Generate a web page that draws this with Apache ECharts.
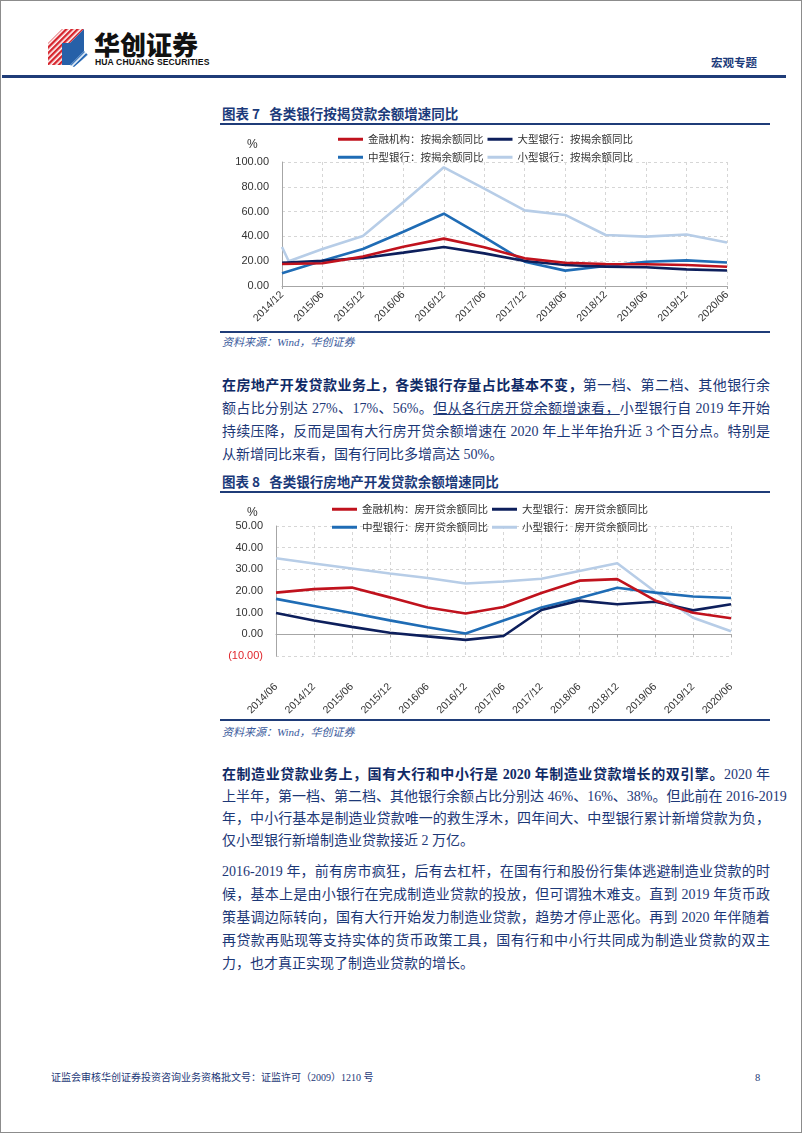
<!DOCTYPE html>
<html><head><meta charset="utf-8">
<script src="https://cdn.jsdelivr.net/npm/echarts@6/dist/echarts.min.js"></script>
<style>
html,body{margin:0;padding:0;background:#fff;}
#page{position:relative;width:802px;height:1133px;overflow:hidden;font-family:"Liberation Serif","Noto Sans CJK SC",serif;}
.frame{position:absolute;left:0;top:0;width:800px;height:1131px;border:1px solid #8c8c8c;}
.abs{position:absolute;white-space:nowrap;}
.tl{position:absolute;left:222px;width:548px;white-space:nowrap;font-size:14px;line-height:20px;height:20px;color:#1d3877;}
.j{text-align:justify;text-align-last:justify;}
.b{font-weight:bold;color:#0f2a66;}
.u{text-decoration:underline;}
.title{position:absolute;left:222px;font-family:"Noto Sans CJK SC",sans-serif;font-weight:bold;font-size:13.5px;color:#1b3a7a;line-height:18px;}
.rule{position:absolute;left:220px;width:550px;height:2px;background:#1f3c78;}
.src{position:absolute;left:222px;font-size:11px;font-style:italic;color:#3a5a9c;line-height:14px;}
.chart{position:absolute;}
</style></head>
<body><div id="page">
<div class="frame"></div>
<!-- header -->
<svg class="abs" style="left:48px;top:29px" width="42" height="38" viewBox="0 0 42 38">
  <defs>
    <pattern id="st" patternUnits="userSpaceOnUse" width="4" height="4" patternTransform="rotate(45)">
      <rect width="2.4" height="4" fill="#d7262e"/>
    </pattern>
    <pattern id="sb" patternUnits="userSpaceOnUse" width="4" height="4" patternTransform="rotate(45)">
      <rect width="2.4" height="4" fill="#2a6ab5"/>
    </pattern>
  </defs>
  <polygon points="14,0 36,0 22,14 0,14 " fill="url(#st)"/>
  <polygon points="0,14 14,14 14,36 0,36" fill="url(#st)"/>
  <polygon points="14,14 22,14 36,0 36,22 22,36 14,36" fill="#2660a8"/>
  <polygon points="22,36 36,22 40,26 26,38" fill="url(#sb)"/>
</svg>
<div class="abs" style="left:94px;top:29px;font-family:'Noto Sans CJK SC';font-weight:900;font-size:26px;line-height:30px;color:#111;letter-spacing:0px">华创证券</div>
<div class="abs" style="left:95px;top:58px;font-family:'Liberation Sans Narrow','Liberation Sans';font-weight:bold;font-size:8.6px;line-height:9px;color:#111;letter-spacing:0.1px">HUA CHUANG SECURITIES</div>
<div class="abs" style="left:711px;top:55px;font-family:'Noto Sans CJK SC';font-weight:bold;font-size:11.5px;line-height:14px;color:#1b3a7a">宏观专题</div>
<div class="abs" style="left:2px;top:75px;width:784px;height:3px;background:#1f3c78"></div>

<!-- chart 7 -->
<div class="title" style="top:104px">图表 7&nbsp;&nbsp;&nbsp;各类银行按揭贷款余额增速同比</div>
<div class="rule" style="top:123px"></div>
<div id="c1" class="chart" style="left:210px;top:128px;width:570px;height:202px"></div>
<div class="rule" style="top:331px;height:1.5px"></div>
<div class="src" style="top:335px">资料来源：Wind，华创证券</div>

<!-- paragraph 1 -->
<div class="tl j" style="top:376px"><span class="b">在房地产开发贷款业务上，各类银行存量占比基本不变，</span>第一档、第二档、其他银行余</div>
<div class="tl j" style="top:399px">额占比分别达 27%、17%、56%。<span class="u">但从各行房开贷余额增速看，</span>小型银行自 2019 年开始</div>
<div class="tl j" style="top:422px">持续压降，反而是国有大行房开贷余额增速在 2020 年上半年抬升近 3 个百分点。特别是</div>
<div class="tl" style="top:445px">从新增同比来看，国有行同比多增高达 50%。</div>

<!-- chart 8 -->
<div class="title" style="top:472px">图表 8&nbsp;&nbsp;&nbsp;各类银行房地产开发贷款余额增速同比</div>
<div class="rule" style="top:491px"></div>
<div id="c2" class="chart" style="left:210px;top:496px;width:570px;height:222px"></div>
<div class="rule" style="top:719px;height:1.5px"></div>
<div class="src" style="top:725px">资料来源：Wind，华创证券</div>

<!-- paragraph 2 -->
<div class="tl j" style="top:765px"><span class="b">在制造业贷款业务上，国有大行和中小行是 2020 年制造业贷款增长的双引擎。</span>2020 年</div>
<div class="tl j" style="top:787px">上半年，第一档、第二档、其他银行余额占比分别达 46%、16%、38%。但此前在 2016-2019</div>
<div class="tl j" style="top:809px">年，中小行基本是制造业贷款唯一的救生浮木，四年间大、中型银行累计新增贷款为负，</div>
<div class="tl" style="top:831px">仅小型银行新增制造业贷款接近 2 万亿。</div>

<!-- paragraph 3 -->
<div class="tl j" style="top:862px">2016-2019 年，前有房市疯狂，后有去杠杆，在国有行和股份行集体逃避制造业贷款的时</div>
<div class="tl j" style="top:885px">候，基本上是由小银行在完成制造业贷款的投放，但可谓独木难支。直到 2019 年货币政</div>
<div class="tl j" style="top:908px">策基调边际转向，国有大行开始发力制造业贷款，趋势才停止恶化。再到 2020 年伴随着</div>
<div class="tl j" style="top:931px">再贷款再贴现等支持实体的货币政策工具，国有行和中小行共同成为制造业贷款的双主</div>
<div class="tl" style="top:954px">力，也才真正实现了制造业贷款的增长。</div>

<!-- footer -->
<div class="abs" style="left:51px;top:1071px;font-size:10px;line-height:13px;color:#1d3877">证监会审核华创证券投资咨询业务资格批文号：证监许可（2009）1210 号</div>
<div class="abs" style="left:755px;top:1071px;font-size:10.5px;line-height:13px;color:#1d3877">8</div>
</div>

<script>
// ---------- Chart 7 data (按揭余额同比, %) ----------
const cats1 = ['2014/12','2015/06','2015/12','2016/06','2016/12','2017/06','2017/12','2018/06','2018/12','2019/06','2019/12','2020/06'];
const months1 = [0, 6, 12, 18, 24, 30, 36, 42, 48, 54, 60, 66];
const fin1   = [17.7, 18.3, 23.7, 31.7, 38.2, 31.2, 22.3, 18.8, 17.7, 17.5, 16.9, 15.5];
const large1 = [18.8, 20.4, 22.6, 26.9, 31.5, 26.3, 20.2, 16.9, 15.6, 15.1, 13.4, 12.5];
const mid1   = [10.2, 20.4, 29.8, 43.8, 58.3, 39.5, 19.6, 12.4, 16.1, 19.6, 20.7, 19.0];
const smallMonths1 = [0, 1, 6, 12, 18, 24, 30, 36, 42, 48, 54, 60, 66];
const small1 = [31.5, 20.0, 29.8, 40.3, 67.5, 95.7, 78.5, 61.0, 57.3, 41.1, 39.8, 41.5, 35.0];
const names1 = ['金融机构：按揭余额同比','大型银行：按揭余额同比','中型银行：按揭余额同比','小型银行：按揭余额同比'];

// ---------- Chart 8 data (房开贷余额同比, %) ----------
const cats2 = ['2014/06','2014/12','2015/06','2015/12','2016/06','2016/12','2017/06','2017/12','2018/06','2018/12','2019/06','2019/12','2020/06'];
const fin2   = [19.3, 20.9, 21.6, 17.1, 12.4, 9.7, 12.7, 19.1, 24.8, 25.5, 15.7, 10.0, 7.5];
const large2 = [9.9, 6.4, 3.5, 0.8, -0.9, -2.5, -0.7, 11.3, 15.6, 13.9, 15.1, 11.1, 13.9];
const mid2   = [16.4, 13.1, 9.9, 6.5, 3.3, 0.4, 6.4, 12.4, 16.8, 21.5, 19.3, 17.5, 16.8];
const small2 = [35.1, 32.7, 30.4, 28.1, 26.0, 23.5, 24.4, 25.7, 29.3, 32.8, 19.7, 7.7, 1.5];
const names2 = ['金融机构：房开贷余额同比','大型银行：房开贷余额同比','中型银行：房开贷余额同比','小型银行：房开贷余额同比'];

const colors = ['#c0121d', '#0d1f5c', '#1f6cb5', '#b7cde7'];
const axisFont = 'Liberation Sans';
const legendFont = 'Noto Sans CJK SC';

function legends(names, left, top1, top2) {
  const base = {
    left: left, icon: 'rect', itemWidth: 25, itemHeight: 3, itemGap: 4,
    textStyle: {fontFamily: legendFont, fontSize: 10.5, color: '#333'}, padding: 0
  };
  return [
    Object.assign({}, base, {top: top1, data: [names[0], names[1]]}),
    Object.assign({}, base, {top: top2, data: [names[2], names[3]]})
  ];
}
function lineSeries(name, data, color, z) {
  return {name: name, type: 'line', data: data, showSymbol: false, symbol: 'none',
    lineStyle: {width: 2.6, color: color}, itemStyle: {color: color}, z: z, silent: true};
}
const dashed = {show: true, lineStyle: {color: '#d6d6d6', type: [3, 3], width: 1}};

const c1 = echarts.init(document.getElementById('c1'), null, {renderer: 'canvas'});
c1.setOption({
  animation: false,
  legend: legends(names1, 128, 6, 24),
  graphic: [{type: 'text', left: 37, top: 11, style: {text: '%', font: '12px "Liberation Sans"', fill: '#333'}}],
  grid: {left: 72, top: 34, width: 445, height: 124},
  xAxis: {
    type: 'value', min: 0, max: 66, interval: 6,
    axisLine: {show: true, onZero: false, lineStyle: {color: '#a6a6a6'}},
    axisTick: {show: true, length: 3, lineStyle: {color: '#a6a6a6'}},
    axisLabel: {rotate: 45, margin: 7, fontFamily: axisFont, fontSize: 10.5, color: '#333',
      formatter: v => cats1[months1.indexOf(v)] || ''},
    splitLine: dashed
  },
  yAxis: {
    type: 'value', min: 0, max: 100, interval: 20,
    axisLine: {show: true, lineStyle: {color: '#a6a6a6'}},
    axisTick: {show: false},
    axisLabel: {margin: 13, fontFamily: axisFont, fontSize: 11, color: '#333', formatter: v => v.toFixed(2)},
    splitLine: dashed
  },
  series: [
    lineSeries(names1[3], smallMonths1.map((m, i) => [m, small1[i]]), colors[3], 1),
    lineSeries(names1[2], months1.map((m, i) => [m, mid1[i]]), colors[2], 2),
    lineSeries(names1[1], months1.map((m, i) => [m, large1[i]]), colors[1], 3),
    lineSeries(names1[0], months1.map((m, i) => [m, fin1[i]]), colors[0], 4)
  ]
});

const c2 = echarts.init(document.getElementById('c2'), null, {renderer: 'canvas'});
c2.setOption({
  animation: false,
  legend: legends(names2, 122, 8, 26),
  graphic: [{type: 'text', left: 37, top: 11, style: {text: '%', font: '12px "Liberation Sans"', fill: '#333'}}],
  grid: {left: 66, top: 30, width: 455, height: 150},
  xAxis: {
    type: 'category', data: cats2, boundaryGap: false,
    axisLine: {show: true, onZero: true, lineStyle: {color: '#a6a6a6'}},
    axisTick: {show: true, length: 3, alignWithLabel: true, lineStyle: {color: '#a6a6a6'}},
    axisLabel: {rotate: 45, margin: 29, fontFamily: axisFont, fontSize: 10.5, color: '#333', interval: 0},
    splitLine: dashed
  },
  yAxis: {
    type: 'value', min: -10, max: 50, interval: 10,
    axisLine: {show: true, onZero: false, lineStyle: {color: '#a6a6a6'}},
    axisTick: {show: false},
    axisLabel: {margin: 13, fontFamily: axisFont, fontSize: 11, color: '#333',
      formatter: v => v < 0 ? '{neg|(' + Math.abs(v).toFixed(2) + ')}' : v.toFixed(2),
      rich: {neg: {color: '#e0252b', fontFamily: axisFont, fontSize: 11}}},
    splitLine: dashed
  },
  series: [
    lineSeries(names2[3], small2, colors[3], 1),
    lineSeries(names2[2], mid2, colors[2], 2),
    lineSeries(names2[1], large2, colors[1], 3),
    lineSeries(names2[0], fin2, colors[0], 4)
  ]
});
</script>
</body></html>
